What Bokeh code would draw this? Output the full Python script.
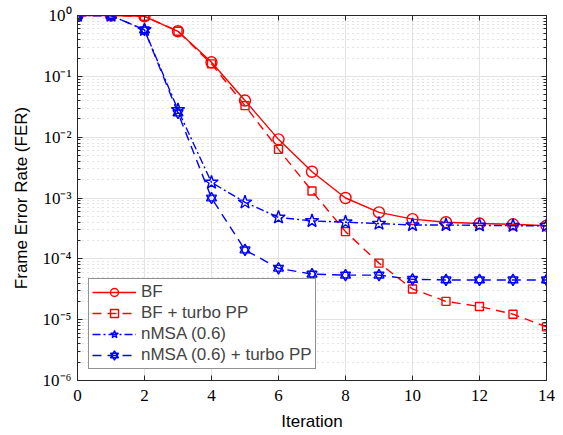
from bokeh.plotting import figure
from bokeh.models import (LogAxis, LinearAxis, SingleIntervalTicker, CustomJSTickFormatter,
                          Legend, LegendItem, Range1d, LogTicker)
from bokeh.embed import file_html
from bokeh.resources import INLINE

iterations = list(range(15))
bf = [1.0, 1.0, 0.97, 0.55, 0.17, 0.040, 0.0092, 0.0027, 0.0010, 5.8e-4, 4.5e-4, 4.0e-4, 3.8e-4, 3.7e-4, 3.5e-4]
bf_pp = [1.0, 1.0, 0.97, 0.55, 0.16, 0.033, 0.0063, 0.0013, 2.8e-4, 8.5e-5, 3.2e-5, 2.0e-5, 1.65e-5, 1.23e-5, 7.6e-6]
nmsa = [1.0, 1.0, 0.58, 0.028, 0.0018, 8.5e-4, 4.8e-4, 4.2e-4, 4.0e-4, 3.8e-4, 3.6e-4, 3.6e-4, 3.55e-4, 3.5e-4, 3.5e-4]
nmsa_pp = [1.0, 1.0, 0.58, 0.025, 0.0010, 1.4e-4, 7.0e-5, 5.6e-5, 5.4e-5, 5.4e-5, 4.6e-5, 4.5e-5, 4.5e-5, 4.5e-5, 4.5e-5]
labels = ["BF", "BF + turbo PP", "nMSA (0.6)", "nMSA (0.6) + turbo PP"]

RED = "#ff0000"
BLUE = "#0000ff"
SANS = "Liberation Sans"
SERIF = "Liberation Serif"

p = figure(width=555, height=433, y_axis_type="log", output_backend="svg",
           toolbar_location=None, x_range=Range1d(0, 14), y_range=Range1d(1e-6, 1),
           min_border_left=77, min_border_right=9, min_border_top=15, min_border_bottom=49,
           x_axis_label="Iteration", y_axis_label="Frame Error Rate (FER)")
p.outline_line_color = "#262626"
p.outline_line_width = 1
p.background_fill_color = "white"
p.border_fill_color = "white"

fmt = CustomJSTickFormatter(code="""
const sup = {"-":"\u207b","0":"\u2070","1":"\u00b9","2":"\u00b2","3":"\u00b3","4":"\u2074","5":"\u2075","6":"\u2076","7":"\u2077","8":"\u2078","9":"\u2079"};
const e = Math.round(Math.log10(tick));
return "10" + String(e).split("").map(c => sup[c]).join("");
""")
blank = CustomJSTickFormatter(code="return ''")

p.xaxis.ticker = SingleIntervalTicker(interval=2, num_minor_ticks=0)
p.yaxis.ticker = LogTicker(num_minor_ticks=10)
p.yaxis.formatter = fmt

for ax in [p.xaxis[0], p.yaxis[0]]:
    ax.axis_line_color = "#262626"
    ax.major_tick_in = 5
    ax.major_tick_out = 0
    ax.minor_tick_in = 3
    ax.minor_tick_out = 0
    ax.major_tick_line_color = "#262626"
    ax.minor_tick_line_color = "#262626"
    ax.major_label_text_font = SERIF
    ax.major_label_text_font_size = "17px"
    ax.major_label_text_color = "black"
    ax.axis_label_text_font = SANS
    ax.axis_label_text_font_size = "17px"
    ax.axis_label_text_font_style = "normal"
    ax.axis_label_text_color = "black"
p.xaxis.major_label_standoff = 9
p.xaxis.axis_label_standoff = 8
p.yaxis.major_label_standoff = 6
p.yaxis.axis_label_standoff = 9

top = LinearAxis(ticker=SingleIntervalTicker(interval=2, num_minor_ticks=0), formatter=blank,
                 major_tick_in=5, major_tick_out=0,
                 minor_tick_in=0, minor_tick_out=0, axis_line_color="#262626",
                 major_tick_line_color="#262626", major_label_standoff=0)
right = LogAxis(ticker=LogTicker(num_minor_ticks=10), formatter=blank,
                major_tick_in=5, major_tick_out=0, minor_tick_in=3, minor_tick_out=0,
                axis_line_color="#262626", major_tick_line_color="#262626",
                minor_tick_line_color="#262626", major_label_standoff=0)
p.add_layout(top, "above")
p.add_layout(right, "right")

p.xgrid.grid_line_color = "#e3e3e3"
p.xgrid.grid_line_width = 1
p.ygrid.grid_line_color = "#e3e3e3"
p.ygrid.grid_line_width = 1
p.ygrid.minor_grid_line_color = "#c8c8c8"
p.ygrid.minor_grid_line_dash = "1 4"
p.ygrid.minor_grid_line_width = 1

lw = 1.4
items = []

r1 = p.line(iterations, bf, color=RED, line_width=lw)
m1 = p.scatter(iterations, bf, marker="circle", size=11, line_color=RED, fill_color=None, line_width=lw)
items.append(LegendItem(label=labels[0], renderers=[r1, m1]))

r2 = p.line(iterations, bf_pp, color=RED, line_width=lw, line_dash="9 6")
m2 = p.scatter(iterations, bf_pp, marker="square", size=8, line_color=RED, fill_color=None, line_width=lw)
items.append(LegendItem(label=labels[1], renderers=[r2, m2]))

r3 = p.line(iterations, nmsa, color=BLUE, line_width=lw, line_dash="8 3 2 3")
m3 = p.scatter(iterations, nmsa, marker="star", size=14, line_color=BLUE, fill_color=None, line_width=lw)
items.append(LegendItem(label=labels[2], renderers=[r3, m3]))

r4 = p.line(iterations, nmsa_pp, color=BLUE, line_width=lw, line_dash="9 6")
m4a = p.scatter(iterations, nmsa_pp, marker="triangle", size=10, line_color=BLUE, fill_color=None, line_width=lw)
m4b = p.scatter(iterations, nmsa_pp, marker="inverted_triangle", size=10, line_color=BLUE, fill_color=None, line_width=lw)
items.append(LegendItem(label=labels[3], renderers=[r4, m4a, m4b]))

legend = Legend(items=items, location="bottom_left", margin=11, padding=3, spacing=1,
                glyph_width=44, glyph_height=20, label_standoff=5,
                label_text_font=SANS, label_text_font_size="17px", label_height=20,
                border_line_color="#262626", border_line_width=1, background_fill_alpha=1)
p.add_layout(legend, "center")

open("out.html", "w").write(file_html(p, INLINE))
